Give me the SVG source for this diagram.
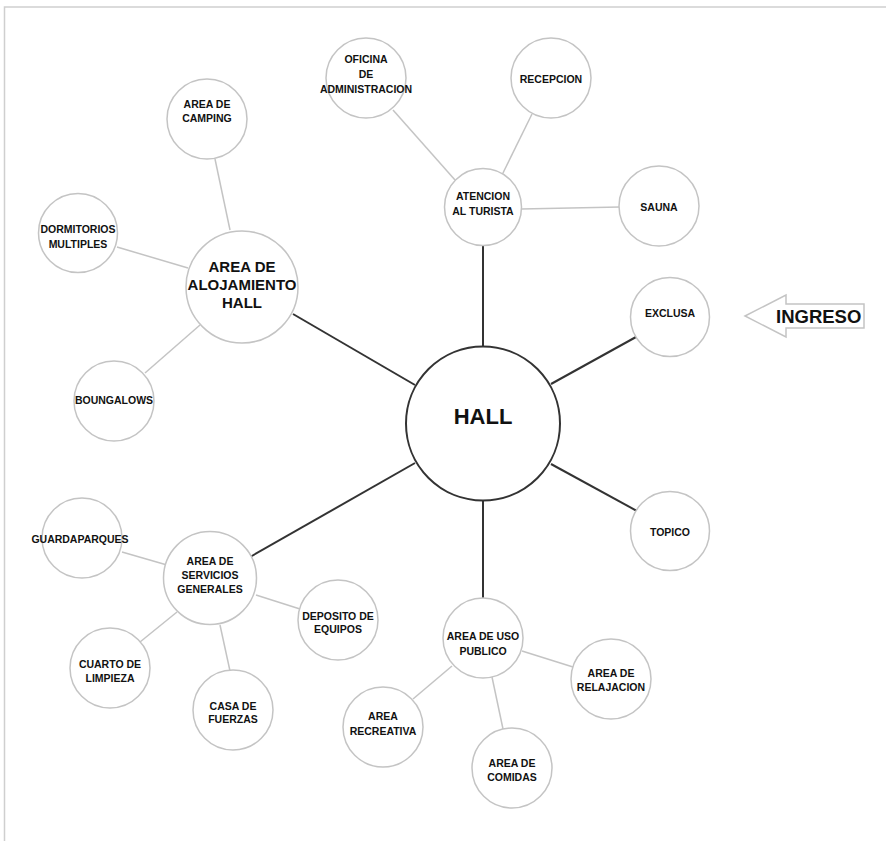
<svg xmlns="http://www.w3.org/2000/svg" width="886" height="841" viewBox="0 0 886 841">
<style>
.c{fill:#fff;stroke:#c4c4c4;stroke-width:1.5}
.hc{fill:#fff;stroke:#333;stroke-width:2}
.l{stroke:#c4c4c4;stroke-width:1.5;fill:none}
.d{stroke:#333;stroke-width:2;fill:none}
text{font-family:"Liberation Sans",Arial,sans-serif;font-weight:bold;fill:#111;text-anchor:middle;font-size:10.5px}
.big{font-size:15px}
.hall{font-size:22px}
.ing{font-size:18.5px;text-anchor:start}
</style>
<rect width="886" height="841" fill="#fff"/>
<path d="M4.5 841 V7 H886" fill="none" stroke="#cfcfcf" stroke-width="1.5"/>
<g id="connectors">
<line class="d" x1="483" y1="245" x2="483" y2="347"/>
<line class="d" x1="483" y1="500" x2="483" y2="598"/>
<line class="d" x1="293" y1="314" x2="415" y2="385"/>
<line class="d" x1="250" y1="557" x2="415" y2="463"/>
<line class="d" x1="551" y1="384" x2="636" y2="337"/>
<line class="d" x1="551" y1="464" x2="637" y2="511"/>
<line class="l" x1="393" y1="110" x2="455" y2="180"/>
<line class="l" x1="532" y1="114" x2="502" y2="175"/>
<line class="l" x1="521" y1="209" x2="620" y2="207"/>
<line class="l" x1="230" y1="230" x2="215" y2="159"/>
<line class="l" x1="117" y1="247" x2="188" y2="268"/>
<line class="l" x1="145" y1="373" x2="200" y2="325"/>
<line class="l" x1="122" y1="552" x2="167" y2="565"/>
<line class="l" x1="256" y1="595" x2="300" y2="609"/>
<line class="l" x1="140" y1="642" x2="177" y2="612"/>
<line class="l" x1="220" y1="625" x2="230" y2="671"/>
<line class="l" x1="522" y1="651" x2="573" y2="667"/>
<line class="l" x1="452" y1="666" x2="413" y2="699"/>
<line class="l" x1="492" y1="677" x2="503" y2="729"/>
</g>
<g id="hall"><circle class="hc" cx="483" cy="423.5" r="77"/><text class="hall" x="483" y="424">HALL</text></g>
<g id="atencion"><circle class="c" cx="483" cy="207" r="38.5"/><text x="483" y="200">ATENCION</text><text x="483" y="215">AL TURISTA</text></g>
<g id="oficina"><circle class="c" cx="366" cy="78" r="40"/><text x="366" y="63">OFICINA</text><text x="366" y="78">DE</text><text x="366" y="93">ADMINISTRACION</text></g>
<g id="recepcion"><circle class="c" cx="551" cy="78" r="40"/><text x="551" y="83">RECEPCION</text></g>
<g id="sauna"><circle class="c" cx="659" cy="206" r="40"/><text x="659" y="211">SAUNA</text></g>
<g id="exclusa"><circle class="c" cx="670" cy="317" r="39.5"/><text x="670" y="317">EXCLUSA</text></g>
<g id="topico"><circle class="c" cx="670" cy="531" r="39.5"/><text x="670" y="536">TOPICO</text></g>
<g id="ingreso"><path d="M745 316 L786 295 V304 H864 V328 H786 V337 Z" fill="#fff" stroke="#c4c4c4" stroke-width="1.5"/><text class="ing" x="776" y="323">INGRESO</text></g>
<g id="alojamiento"><circle class="c" cx="242" cy="287" r="56"/><text class="big" x="242" y="272">AREA DE</text><text class="big" x="242" y="290">ALOJAMIENTO</text><text class="big" x="242" y="308">HALL</text></g>
<g id="camping"><circle class="c" cx="207" cy="119" r="40"/><text x="207" y="108">AREA DE</text><text x="207" y="122">CAMPING</text></g>
<g id="dormitorios"><circle class="c" cx="78" cy="233" r="39.5"/><text x="78" y="233">DORMITORIOS</text><text x="78" y="248">MULTIPLES</text></g>
<g id="boungalows"><circle class="c" cx="114" cy="401" r="40"/><text x="114" y="404">BOUNGALOWS</text></g>
<g id="servicios"><circle class="c" cx="210" cy="578" r="46.5"/><text x="210" y="565">AREA DE</text><text x="210" y="579">SERVICIOS</text><text x="210" y="593">GENERALES</text></g>
<g id="guardaparques"><circle class="c" cx="82" cy="538" r="40"/><text x="80" y="543">GUARDAPARQUES</text></g>
<g id="deposito"><circle class="c" cx="338" cy="620" r="40"/><text x="338" y="620">DEPOSITO DE</text><text x="338" y="633">EQUIPOS</text></g>
<g id="cuarto"><circle class="c" cx="110" cy="668" r="40"/><text x="110" y="668">CUARTO DE</text><text x="110" y="682">LIMPIEZA</text></g>
<g id="casa"><circle class="c" cx="233" cy="710" r="40"/><text x="233" y="710">CASA DE</text><text x="233" y="723">FUERZAS</text></g>
<g id="usopublico"><circle class="c" cx="483" cy="638" r="40"/><text x="483" y="640">AREA DE USO</text><text x="483" y="655">PUBLICO</text></g>
<g id="relajacion"><circle class="c" cx="611" cy="679" r="40"/><text x="611" y="677">AREA DE</text><text x="611" y="691">RELAJACION</text></g>
<g id="recreativa"><circle class="c" cx="383" cy="727" r="40"/><text x="383" y="720">AREA</text><text x="383" y="735">RECREATIVA</text></g>
<g id="comidas"><circle class="c" cx="512" cy="768" r="40"/><text x="512" y="767">AREA DE</text><text x="512" y="781">COMIDAS</text></g>
</svg>
